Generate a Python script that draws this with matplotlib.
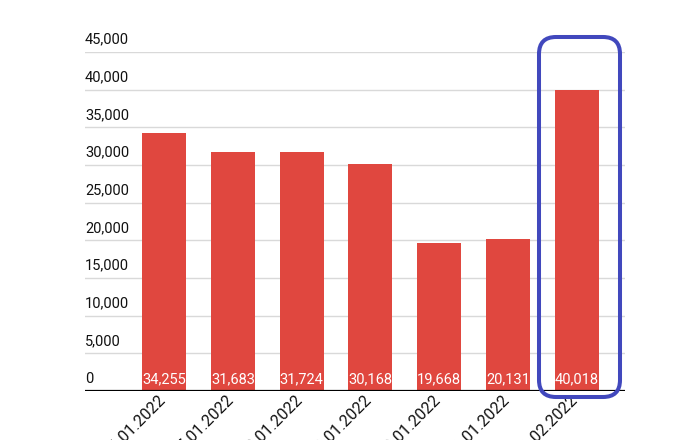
import matplotlib.pyplot as plt
from matplotlib.patches import FancyBboxPatch
from matplotlib.transforms import IdentityTransform, blended_transform_factory

# Dates (day part is cut off in the source picture)
dates = ['26.01.2022', '27.01.2022', '28.01.2022', '29.01.2022',
         '30.01.2022', '31.01.2022', '01.02.2022']
values = [34255, 31683, 31724, 30168, 19668, 20131, 40018]
y_ticks = [0, 5000, 10000, 15000, 20000, 25000, 30000, 35000, 40000, 45000]

bar_color = '#e0473f'
box_color = '#4148bd'

plt.rcParams['font.family'] = ['Roboto', 'DejaVu Sans']

fig = plt.figure(figsize=(6.96, 4.4), dpi=100)
ax = fig.add_axes([85 / 696, 49 / 440, 540 / 696, 339 / 440])

x = range(len(values))
ax.bar(x, values, width=0.64, color=bar_color, zorder=2)

ax.set_ylim(0, 45000)
ax.set_xlim(-1.15, 6.7)

# gridlines
for t in y_ticks[1:]:
    ax.axhline(t, color='#d9d9d9', linewidth=1, zorder=1)
ax.axhline(0, color='black', linewidth=1.6, zorder=3)

# y labels sit above the gridlines, left aligned
tr = blended_transform_factory(ax.transAxes, ax.transData)
for t in y_ticks:
    ax.text(0.0, t + 700, f'{t:,}', transform=tr, ha='left', va='bottom',
            fontsize=10.5, color='#111111')

ax.set_yticks([])
ax.set_xticks([])
for s in ax.spines.values():
    s.set_visible(False)

# value labels at the bottom of each bar
for i, v in zip(x, values):
    ax.text(i, 600, f'{v:,}', ha='center', va='bottom', color='white',
            fontsize=10.5, zorder=4)

# rotated date labels
for i, d in zip(x, dates):
    ax.annotate(d, xy=(i, 0), xycoords='data', xytext=(-1, -5),
                textcoords='offset points', rotation=45, rotation_mode='anchor',
                ha='right', va='center', fontsize=11.5, color='#111111',
                annotation_clip=False)

# highlight box around the last bar (pixel coordinates)
box = FancyBboxPatch((539, 43), 81, 360, boxstyle='round,pad=0,rounding_size=17',
                     transform=IdentityTransform(), fill=False,
                     edgecolor=box_color, linewidth=2.9, zorder=10)
fig.patches.append(box)

fig.savefig('out.png', dpi=100)
